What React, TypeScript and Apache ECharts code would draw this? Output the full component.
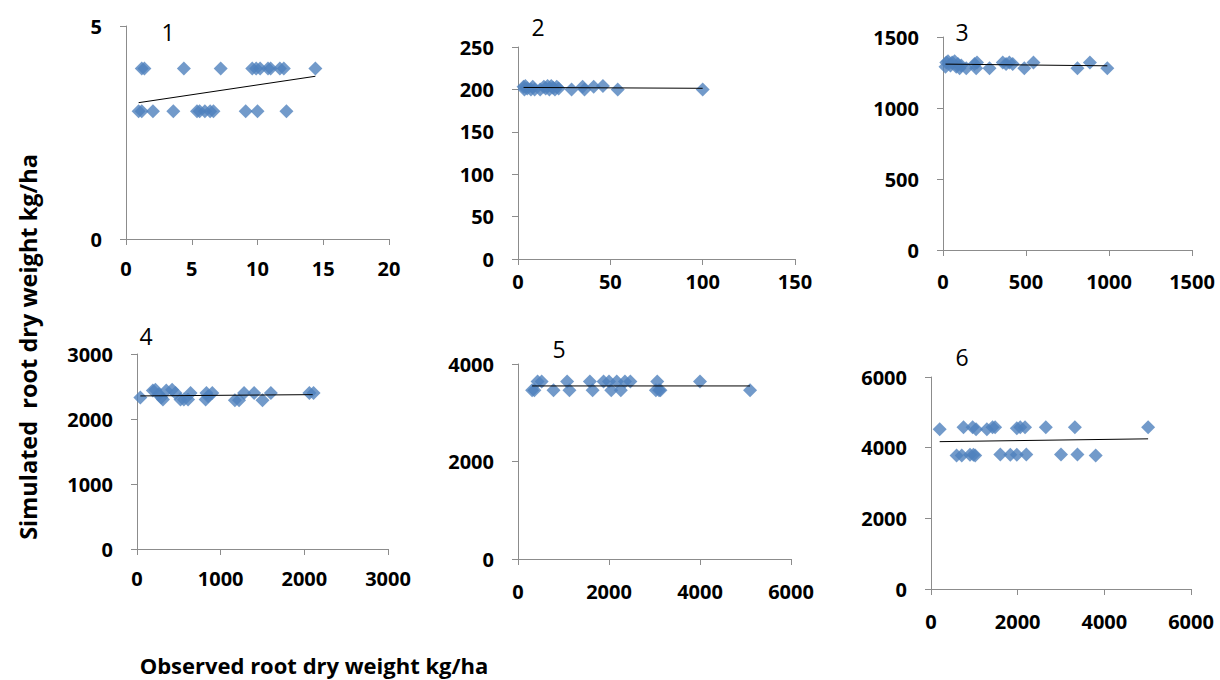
import React, { useEffect, useRef } from "react";
import * as echarts from "echarts";

// Panel 1
const p1Upper: number[][] = [[1.2, 4], [1.4, 4], [4.4, 4], [7.2, 4], [9.6, 4], [9.9, 4], [10.2, 4], [10.8, 4], [11.0, 4], [11.7, 4], [12.0, 4], [14.4, 4]];
const p1Lower: number[][] = [[0.96, 3], [1.2, 3], [2.05, 3], [3.6, 3], [5.4, 3], [5.6, 3], [6.0, 3], [6.4, 3], [6.65, 3], [9.1, 3], [10.0, 3], [12.2, 3]];
const p1Trend: number[][] = [[0.96, 3.2], [14.4, 3.82]];
// Panel 2
const p2Points: number[][] = [[3, 203], [3.5, 200], [4, 204], [5, 201], [7, 200], [8, 203], [9, 200], [12, 200], [14, 203], [15, 201], [16, 204], [17, 200], [18, 204], [19, 202], [20, 200], [21, 203], [22, 201], [29, 200], [35, 203], [36, 200], [41, 203], [46, 204], [54, 200], [100, 200]];
const p2Trend: number[][] = [[3, 202.3], [100, 201.3]];
// Panel 3
const p3Points: number[][] = [[15, 1290], [20, 1320], [30, 1330], [45, 1300], [55, 1320], [70, 1330], [80, 1290], [90, 1310], [100, 1280], [110, 1300], [140, 1280], [190, 1310], [200, 1280], [205, 1320], [280, 1280], [360, 1320], [380, 1310], [400, 1320], [420, 1310], [490, 1280], [545, 1320], [810, 1280], [885, 1320], [990, 1280]];
const p3Trend: number[][] = [[15, 1309], [990, 1297]];
// Panel 4
const p4Points: number[][] = [[40, 2330], [190, 2440], [220, 2450], [260, 2380], [290, 2330], [310, 2300], [350, 2440], [420, 2450], [460, 2400], [520, 2300], [560, 2300], [610, 2300], [640, 2400], [820, 2300], [830, 2400], [850, 2350], [900, 2400], [1170, 2290], [1220, 2290], [1280, 2400], [1400, 2400], [1500, 2290], [1600, 2400], [2060, 2400], [2110, 2400]];
const p4Trend: number[][] = [[40, 2355], [2100, 2375]];
// Panel 5
const p5Upper: number[][] = [[430, 3640], [520, 3640], [1080, 3640], [1580, 3640], [1880, 3640], [2000, 3640], [2170, 3640], [2350, 3640], [2470, 3640], [3060, 3640], [4000, 3640]];
const p5Lower: number[][] = [[310, 3460], [360, 3460], [780, 3460], [1130, 3460], [1640, 3460], [2050, 3460], [2260, 3460], [3030, 3460], [3100, 3460], [3130, 3460], [5100, 3460]];
const p5Trend: number[][] = [[310, 3550], [5100, 3550]];
// Panel 6
const p6Upper: number[][] = [[200, 4520], [750, 4580], [960, 4580], [1040, 4520], [1290, 4520], [1420, 4580], [1480, 4580], [1980, 4550], [2060, 4580], [2170, 4580], [2650, 4580], [3320, 4580], [5010, 4580]];
const p6Lower: number[][] = [[590, 3780], [710, 3780], [900, 3800], [980, 3800], [1020, 3780], [1600, 3810], [1830, 3800], [1980, 3800], [2200, 3810], [3000, 3810], [3380, 3810], [3800, 3780]];
const p6Trend: number[][] = [[200, 4170], [5010, 4250]];

const panelTitles = ["1", "2", "3", "4", "5", "6"];
const xRanges: number[][] = [[0, 20, 5], [0, 150, 50], [0, 1500, 500], [0, 3000, 1000], [0, 6000, 2000], [0, 6000, 2000]];
const yRanges: number[][] = [[0, 5, 5], [0, 250, 50], [0, 1500, 500], [0, 3000, 1000], [0, 4000, 2000], [0, 6000, 2000]];

const yAxisTitle = "Simulated  root dry weight kg/ha";
const xAxisTitle = "Observed root dry weight kg/ha";

const grids = [
  { left: 126, top: 26, width: 263, height: 213 },
  { left: 518, top: 47, width: 277, height: 212 },
  { left: 943, top: 37, width: 249, height: 213 },
  { left: 137, top: 354, width: 251, height: 195 },
  { left: 518, top: 364, width: 273, height: 195 },
  { left: 931, top: 377, width: 260, height: 212 },
];
const xLabelMargins = [19, 12, 21, 19, 22, 22];
const titlePos = [[168, 32], [538, 27], [962, 32], [146, 336], [559, 349], [962, 357]];

const FONT = "'Open Sans', 'Liberation Sans', sans-serif";
const AXIS_COLOR = "#8c8c8c";
const MARK = "#4f81bd";

export default function App() {
  const ref = useRef<HTMLDivElement>(null);
  useEffect(() => {
    if (!ref.current) return;
    const chart = echarts.init(ref.current, undefined, { renderer: "svg" });
    const labelStyle = { color: "#000", fontSize: 20, fontWeight: "bold", fontFamily: FONT, formatter: (v: number) => String(v) };
    const xAxis = xRanges.map((r, i) => ({
      type: "value",
      gridIndex: i,
      min: r[0],
      max: r[1],
      interval: r[2],
      axisLine: { show: true, lineStyle: { color: AXIS_COLOR, width: 1 } },
      axisTick: { show: true, inside: false, length: 6, lineStyle: { color: AXIS_COLOR } },
      splitLine: { show: false },
      axisLabel: { ...labelStyle, margin: xLabelMargins[i] },
    }));
    const yAxis = yRanges.map((r, i) => ({
      type: "value",
      gridIndex: i,
      min: r[0],
      max: r[1],
      interval: r[2],
      axisLine: { show: true, lineStyle: { color: AXIS_COLOR, width: 1 } },
      axisTick: { show: true, inside: false, length: 6, lineStyle: { color: AXIS_COLOR } },
      splitLine: { show: false },
      axisLabel: { ...labelStyle, margin: 24 },
    }));
    const scatterSets: number[][][][] = [
      [p1Upper, p1Lower],
      [p2Points],
      [p3Points],
      [p4Points],
      [p5Upper, p5Lower],
      [p6Upper, p6Lower],
    ];
    const trends = [p1Trend, p2Trend, p3Trend, p4Trend, p5Trend, p6Trend];
    const series: any[] = [];
    scatterSets.forEach((sets, i) => {
      sets.forEach((d) => {
        series.push({
          type: "scatter",
          xAxisIndex: i,
          yAxisIndex: i,
          data: d,
          symbol: "diamond",
          symbolSize: 14,
          itemStyle: { color: MARK },
          z: 2,
        });
      });
      series.push({
        type: "line",
        xAxisIndex: i,
        yAxisIndex: i,
        data: trends[i],
        symbol: "none",
        lineStyle: { color: "#000", width: 1 },
        z: 3,
      });
    });
    const graphic: any[] = panelTitles.map((t, i) => ({
      type: "text",
      x: titlePos[i][0],
      y: titlePos[i][1],
      style: { text: t, fontSize: 23, fontFamily: FONT, fill: "#000", align: "center", verticalAlign: "middle" },
    }));
    graphic.push({
      type: "text",
      x: 28,
      y: 347,
      rotation: Math.PI / 2,
      style: { text: yAxisTitle, fontSize: 23.5, fontWeight: "bold", fontFamily: FONT, fill: "#000", align: "center", verticalAlign: "middle" },
    });
    graphic.push({
      type: "text",
      x: 314,
      y: 665,
      style: { text: xAxisTitle, fontSize: 22, fontWeight: "bold", fontFamily: FONT, fill: "#000", align: "center", verticalAlign: "middle" },
    });
    chart.setOption({
      animation: false,
      backgroundColor: "#fff",
      grid: grids,
      xAxis,
      yAxis,
      series,
      graphic,
    });
    return () => chart.dispose();
  }, []);
  return <div ref={ref} style={{ position: "absolute", left: 0, top: 0, width: 1220, height: 680 }} />;
}
